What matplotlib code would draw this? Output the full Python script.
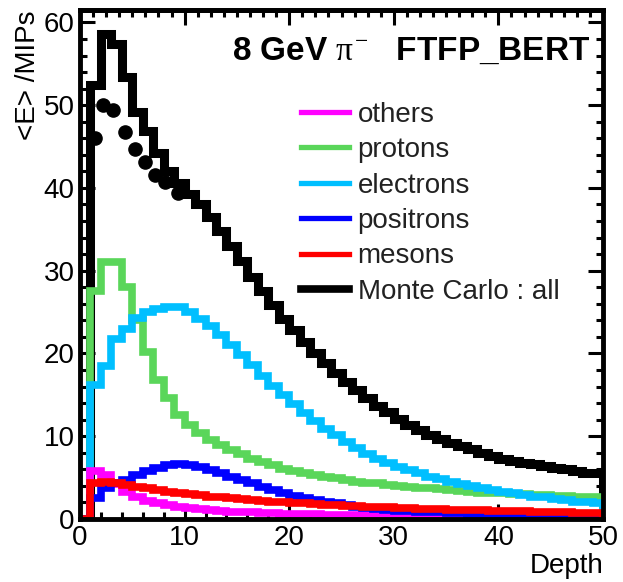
import numpy as np
from matplotlib import pyplot as plt
from matplotlib.lines import Line2D
from matplotlib.ticker import MultipleLocator, NullFormatter

plt.rcParams['font.family'] = ['Liberation Sans', 'DejaVu Sans']
plt.rcParams['mathtext.fontset'] = 'custom'
plt.rcParams['mathtext.rm'] = 'Liberation Serif'
plt.rcParams['mathtext.it'] = 'Liberation Serif'

# depth bins 0..50, one value per layer
edges = np.arange(51)

mc_all = [0, 52.4, 58.6, 57.4, 53.4, 49.2, 46.9, 44.2, 42.1, 40.6,
          39.3, 38.0, 36.5, 34.8, 33.0, 31.2, 29.3, 27.5, 25.8, 24.2,
          22.8, 21.4, 20.1, 18.9, 17.7, 16.6, 15.6, 14.6, 13.7, 12.9,
          12.1, 11.4, 10.8, 10.2, 9.7, 9.2, 8.8, 8.4, 8.0, 7.6,
          7.3, 7.0, 6.8, 6.6, 6.4, 6.2, 6.0, 5.8, 5.6, 5.5]
protons = [0, 27.5, 31.0, 31.0, 28.0, 24.0, 20.2, 16.8, 14.6, 12.6,
           11.3, 10.4, 9.6, 8.9, 8.3, 7.8, 7.3, 6.9, 6.5, 6.1,
           5.8, 5.5, 5.3, 5.1, 4.9, 4.7, 4.5, 4.4, 4.3, 4.1,
           4.0, 3.9, 3.8, 3.7, 3.6, 3.5, 3.4, 3.3, 3.2, 3.2,
           3.1, 3.0, 3.0, 2.9, 2.9, 2.8, 2.8, 2.7, 2.7, 2.6]
electrons = [0, 16.2, 18.5, 21.8, 23.0, 24.3, 25.0, 25.4, 25.6, 25.6,
             25.0, 24.2, 23.3, 22.2, 21.0, 19.8, 18.6, 17.3, 16.1, 15.0,
             13.9, 12.8, 11.8, 10.9, 10.1, 9.3, 8.6, 7.9, 7.3, 6.8,
             6.3, 5.9, 5.5, 5.1, 4.8, 4.5, 4.2, 4.0, 3.7, 3.5,
             3.3, 3.1, 2.9, 2.7, 2.6, 2.4, 2.3, 2.1, 2.0, 1.9]
others = [0, 5.8, 5.3, 4.2, 3.3, 2.6, 2.2, 1.9, 1.7, 1.5,
          1.35, 1.2, 1.1, 1.0, 0.9, 0.85, 0.8, 0.75, 0.7, 0.65,
          0.6, 0.58, 0.55, 0.52, 0.5, 0.48, 0.46, 0.44, 0.42, 0.4,
          0.38, 0.36, 0.35, 0.34, 0.33, 0.32, 0.31, 0.3, 0.29, 0.28,
          0.27, 0.26, 0.25, 0.24, 0.24, 0.23, 0.22, 0.22, 0.21, 0.2]
positrons = [0, 2.5, 3.8, 4.3, 4.7, 5.3, 5.8, 6.2, 6.5, 6.6,
             6.5, 6.3, 5.9, 5.5, 5.1, 4.7, 4.3, 3.9, 3.5, 3.1,
             2.8, 2.5, 2.3, 2.1, 1.9, 1.7, 1.5, 1.3, 1.2, 1.1,
             1.0, 0.95, 0.9, 0.85, 0.8, 0.75, 0.7, 0.65, 0.6, 0.57,
             0.54, 0.5, 0.47, 0.44, 0.42, 0.4, 0.37, 0.35, 0.32, 0.3]
mesons = [0, 4.3, 4.5, 4.3, 4.1, 3.9, 3.7, 3.5, 3.3, 3.1,
          3.0, 2.85, 2.7, 2.6, 2.5, 2.4, 2.3, 2.2, 2.1, 2.0,
          1.95, 1.9, 1.8, 1.75, 1.7, 1.6, 1.55, 1.5, 1.45, 1.4,
          1.35, 1.3, 1.26, 1.22, 1.18, 1.14, 1.1, 1.07, 1.04, 1.0,
          0.97, 0.94, 0.91, 0.88, 0.85, 0.82, 0.79, 0.76, 0.73, 0.7]

data_x = [1.4, 2.2, 3.2, 4.3, 5.3, 6.2, 7.2, 8.1, 9.4]
data_y = [46.0, 50.0, 49.4, 46.8, 44.7, 43.1, 41.6, 40.7, 39.4]

series = [('others', others, '#ff00ff'),
          ('protons', protons, '#5ad65a'),
          ('electrons', electrons, '#00bfff'),
          ('positrons', positrons, '#0000ff'),
          ('mesons', mesons, '#ff0000')]
draw_order = ['protons', 'electrons', 'others', 'positrons', 'mesons']

fig = plt.figure(figsize=(6.23, 5.82), dpi=100)
ax = fig.add_axes([80 / 623, 1 - 519 / 582, 523 / 623, 509 / 582])

ax.stairs(mc_all, edges, color='black', lw=6.5, zorder=3)
ax.plot(data_x, data_y, 'o', color='black', ms=9.5, zorder=3)
lookup = {name: (vals, col) for name, vals, col in series}
for z, name in enumerate(draw_order):
    vals, col = lookup[name]
    ax.stairs(vals, edges, color=col, lw=5.5, zorder=4 + z)

ax.set_xlim(0, 50)
ax.set_ylim(0, 61.5)

for s in ax.spines.values():
    s.set_linewidth(3.5)
    s.set_zorder(10)

ax.xaxis.set_major_locator(MultipleLocator(10))
ax.xaxis.set_minor_locator(MultipleLocator(2))
ax.yaxis.set_major_locator(MultipleLocator(10))
ax.yaxis.set_minor_locator(MultipleLocator(2))
ax.tick_params(which='both', direction='in', top=False, right=True, width=2.2,
               labelsize=20, pad=4)
ax.tick_params(which='major', length=11)
ax.tick_params(which='minor', length=5)

# top axis has finer divisions
top = ax.secondary_xaxis('top')
top.xaxis.set_major_locator(MultipleLocator(10))
top.xaxis.set_minor_locator(MultipleLocator(1.25))
top.xaxis.set_major_formatter(NullFormatter())
top.tick_params(which='both', direction='in', width=2.2)
top.tick_params(which='major', length=11)
top.tick_params(which='minor', length=5)
top.spines['top'].set_linewidth(3.5)

ax.set_xlabel('Depth', loc='right', fontsize=20, labelpad=2)
ax.set_ylabel('<E> /MIPs', loc='top', fontsize=20, labelpad=2)

ax.text(0.975, 0.902, r'8 GeV $\pi^{-}$   FTFP_BERT', transform=ax.transAxes,
        ha='right', va='baseline', fontsize=24, fontweight='bold')

handles = [Line2D([], [], color=col, lw=3.8) for name, vals, col in series]
labels = [name for name, vals, col in series]
handles.append(Line2D([], [], color='black', lw=5.5))
labels.append('Monte Carlo : all')
leg = ax.legend(handles, labels, loc='upper left', bbox_to_anchor=(0.422, 0.82),
                frameon=False, fontsize=20, handlelength=1.73, handletextpad=0.32,
                labelspacing=0.34, borderpad=0, borderaxespad=0)
for t in leg.get_texts():
    t.set_color('#222222')

fig.savefig('out.png', dpi=100)
